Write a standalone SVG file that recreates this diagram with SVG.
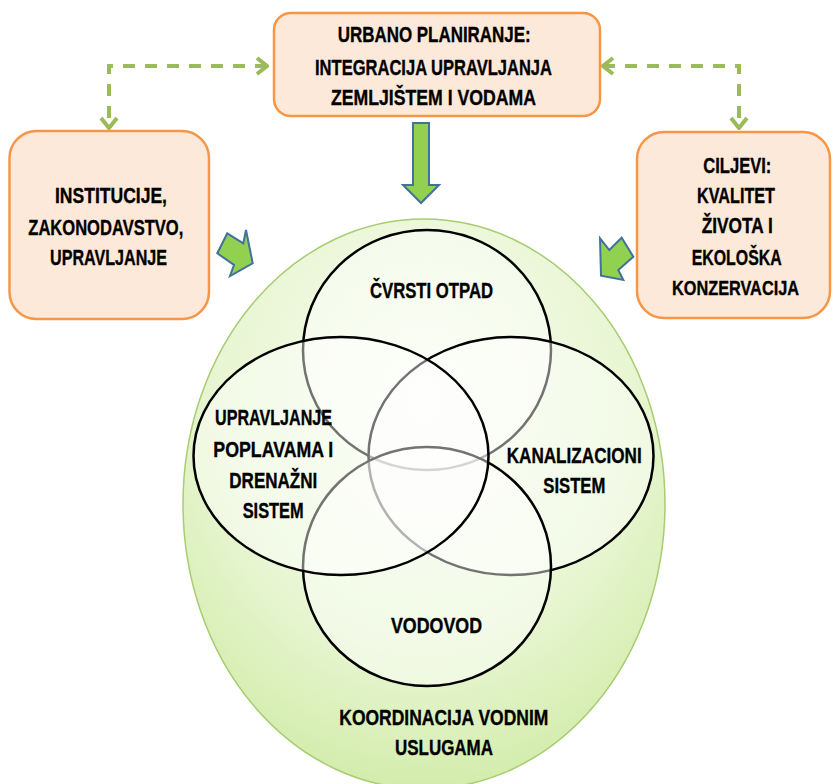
<svg xmlns="http://www.w3.org/2000/svg" width="832" height="784" viewBox="0 0 832 784">
<style>
.box{fill:#fde9d9;stroke:#f79646;stroke-width:2.5}
.t{font-family:"Liberation Sans",Arial,sans-serif;font-weight:bold;font-size:21.5px;fill:#000;stroke:#000;stroke-width:0.35}
.m{text-anchor:middle}
.dash{fill:none;stroke:#9bbb59;stroke-width:4;stroke-dasharray:12 10}
.blk{fill:#92d050;stroke:#41719c;stroke-width:2;stroke-linejoin:miter}
.venn{fill:#ffffff;fill-opacity:0.45;stroke:#000;stroke-width:2.5}
</style>
<defs>
<radialGradient id="bg" cx="50%" cy="32%" r="72%">
<stop offset="0" stop-color="#f8fcf0"/>
<stop offset="0.6" stop-color="#e8f6d3"/>
<stop offset="1" stop-color="#d0eba6"/>
</radialGradient>
<marker id="chev" viewBox="-12 -10 14 20" markerWidth="14" markerHeight="20" refX="0" refY="0" orient="auto-start-reverse" markerUnits="userSpaceOnUse">
<path d="M-10,-8 L0,0 L-10,8" fill="none" stroke="#9bbb59" stroke-width="4"/>
</marker>
</defs>

<g id="koordinacija">
<ellipse cx="424" cy="504" rx="241" ry="285" fill="url(#bg)" stroke="#a8cc72" stroke-width="1.5"/>
<text class="t" x="339.3" y="725" textLength="209" lengthAdjust="spacingAndGlyphs">KOORDINACIJA VODNIM</text>
<text class="t" x="395" y="755" textLength="98" lengthAdjust="spacingAndGlyphs">USLUGAMA</text>
</g>

<g id="connectors">
<path class="dash" d="M267,66 H109 V128" marker-start="url(#chev)" marker-end="url(#chev)"/>
<path class="dash" d="M603,66 H739 V128" marker-start="url(#chev)" marker-end="url(#chev)"/>
<polygon class="blk" points="413,123 429,123 429,185 439,185 421,203 403,185 413,185"/>
<polygon class="blk" points="227.3,233.3 243.3,243.3 246,230 252.7,263.3 230,276 234,265 217.3,253.3"/>
<polygon class="blk" points="621.7,237.7 633.3,256.7 618.3,270 623.3,280 601,275.7 600,238.3 609.3,250"/>
</g>

<g id="urbano">
<rect class="box" x="274" y="13" width="326" height="103" rx="17"/>
<text class="t" x="337.7" y="41.7" textLength="193" lengthAdjust="spacingAndGlyphs">URBANO PLANIRANJE:</text>
<text class="t" x="315" y="75" textLength="237" lengthAdjust="spacingAndGlyphs">INTEGRACIJA UPRAVLJANJA</text>
<text class="t" x="331" y="105" textLength="205" lengthAdjust="spacingAndGlyphs">ZEMLJIŠTEM I VODAMA</text>
</g>

<g id="institucije">
<rect class="box" x="9.5" y="131" width="199.5" height="188" rx="27"/>
<text class="t" x="55" y="203.3" textLength="112" lengthAdjust="spacingAndGlyphs">INSTITUCIJE,</text>
<text class="t" x="28.3" y="235" textLength="155" lengthAdjust="spacingAndGlyphs">ZAKONODAVSTVO,</text>
<text class="t" x="50" y="265" textLength="117" lengthAdjust="spacingAndGlyphs">UPRAVLJANJE</text>
</g>

<g id="ciljevi">
<rect class="box" x="637" y="132" width="193" height="186" rx="27"/>
<text class="t m" x="737.3" y="173.3" textLength="68" lengthAdjust="spacingAndGlyphs">CILJEVI:</text>
<text class="t m" x="736" y="203.3" textLength="78" lengthAdjust="spacingAndGlyphs">KVALITET</text>
<text class="t m" x="737.2" y="233.3" textLength="71" lengthAdjust="spacingAndGlyphs">ŽIVOTA I</text>
<text class="t m" x="736.7" y="265" textLength="90" lengthAdjust="spacingAndGlyphs">EKOLOŠKA</text>
<text class="t m" x="735.5" y="295" font-size="20.5" textLength="127" lengthAdjust="spacingAndGlyphs" style="font-size:20.5px">KONZERVACIJA</text>
</g>

<g id="cvrsti-otpad">
<ellipse class="venn" cx="427" cy="350" rx="124" ry="120"/>
</g>
<g id="kanalizacioni">
<ellipse class="venn" cx="511" cy="456" rx="142.5" ry="119"/>
</g>
<g id="vodovod">
<ellipse class="venn" cx="427" cy="566.5" rx="124" ry="119.5"/>
</g>
<g id="poplave">
<ellipse class="venn" cx="341" cy="456" rx="147.5" ry="119"/>
</g>

<g id="venn-labels">
<text class="t" x="370" y="298.3" textLength="123" lengthAdjust="spacingAndGlyphs">ČVRSTI OTPAD</text>
<text class="t" x="215" y="425" textLength="117" lengthAdjust="spacingAndGlyphs">UPRAVLJANJE</text>
<text class="t" x="213.3" y="456.7" textLength="120" lengthAdjust="spacingAndGlyphs">POPLAVAMA I</text>
<text class="t" x="229.3" y="488.3" textLength="88" lengthAdjust="spacingAndGlyphs">DRENAŽNI</text>
<text class="t" x="242.7" y="518.3" textLength="61" lengthAdjust="spacingAndGlyphs">SISTEM</text>
<text class="t" x="506.7" y="463.3" textLength="135" lengthAdjust="spacingAndGlyphs">KANALIZACIONI</text>
<text class="t" x="543.3" y="493.3" textLength="62" lengthAdjust="spacingAndGlyphs">SISTEM</text>
<text class="t" x="391" y="633.3" textLength="91" lengthAdjust="spacingAndGlyphs">VODOVOD</text>
</g>
</svg>
